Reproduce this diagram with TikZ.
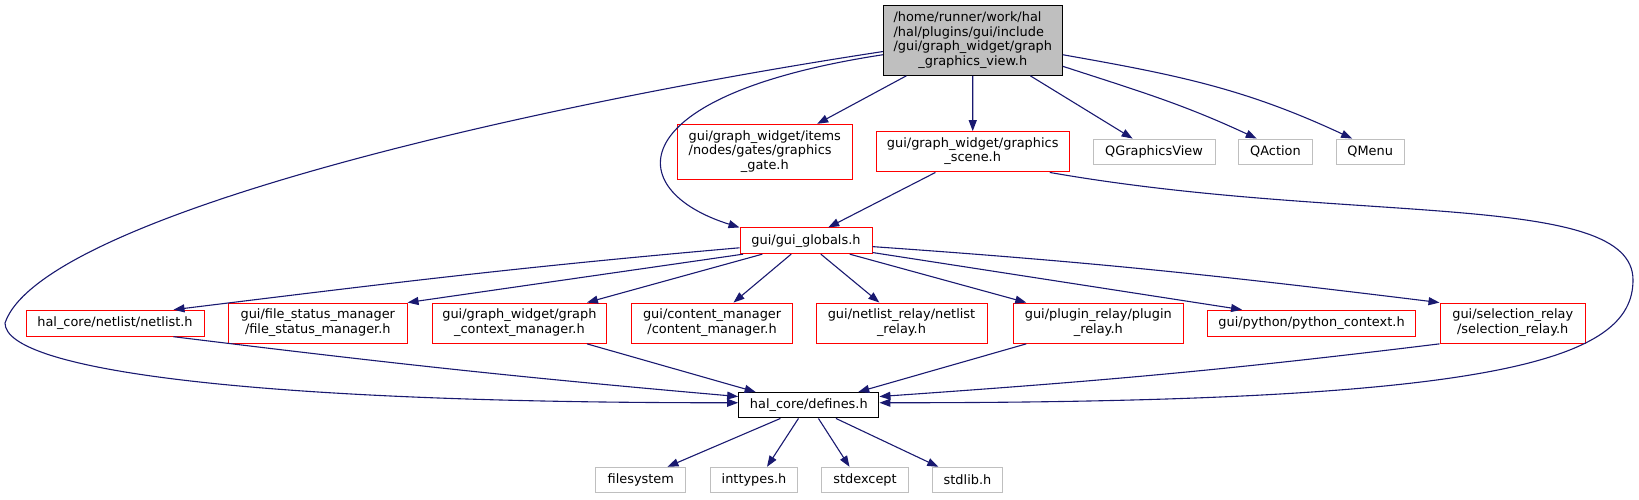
\documentclass[tikz,border=0pt]{standalone}
\usepackage{fontspec}
\setmainfont{DejaVu Sans}
\usetikzlibrary{arrows.meta}
\definecolor{edgeblue}{RGB}{25,25,112}
\definecolor{extgray}{RGB}{191,191,191}
\newcommand{\lastrow}[1]{\multicolumn{1}{@{}c@{}}{#1}}

\begin{document}
\begin{tikzpicture}[x=1pt, y=-1pt,
    every node/.style={font=\fontsize{12.9}{14.5}\selectfont, inner sep=0pt, line width=1pt},
    incbox/.style={draw=red, fill=white, minimum height=40.3pt},
    extbox/.style={draw=extgray, fill=white, minimum height=25.3pt},
    dep/.style={draw=edgeblue, line width=1.1pt, -{Triangle[length=11pt,width=8pt]}}
  ]
  \useasboundingbox (0,0) rectangle (1639,499);
  \node[draw=black, fill=extgray, minimum width=179pt, minimum height=69.6pt] (root) at (972.8,40.5)
    {\begin{tabular}{@{}l@{}}/home/runner/work/hal\\/hal/plugins/gui/include\\/gui/graph\_widget/graph\\\lastrow{\_graphics\_view.h}\end{tabular}};
  \node[incbox, minimum width=175pt, minimum height=54.7pt] (gate) at (764.8,151.7)
    {\begin{tabular}{@{}l@{}}gui/graph\_widget/items\\/nodes/gates/graphics\\\lastrow{\_gate.h}\end{tabular}};
  \node[incbox, minimum width=193.3pt] (scene) at (972.7,151.8)
    {\begin{tabular}{@{}l@{}}gui/graph\_widget/graphics\\\lastrow{\_scene.h}\end{tabular}};
  \node[extbox, minimum width=122pt] (qgv) at (1154,151.7) {QGraphicsView};
  \node[extbox, minimum width=73.6pt] (qaction) at (1275.5,151.7) {QAction};
  \node[extbox, minimum width=68.3pt] (qmenu) at (1370.2,151.7) {QMenu};
  \node[incbox, minimum width=132pt, minimum height=25.7pt] (globals) at (806,240.8) {gui/gui\_globals.h};

  \node[incbox, minimum width=178pt, minimum height=26pt] (netlist) at (115,323.2) {hal\_core/netlist/netlist.h};
  \node[incbox, minimum width=178.5pt] (filestatus) at (317.8,323.2)
    {\begin{tabular}{@{}l@{}}gui/file\_status\_manager\\\lastrow{/file\_status\_manager.h}\end{tabular}};
  \node[incbox, minimum width=174.7pt] (graphctx) at (519.4,323.2)
    {\begin{tabular}{@{}l@{}}gui/graph\_widget/graph\\\lastrow{\_context\_manager.h}\end{tabular}};
  \node[incbox, minimum width=160.6pt] (contentmgr) at (712.1,323.2)
    {\begin{tabular}{@{}l@{}}gui/content\_manager\\\lastrow{/content\_manager.h}\end{tabular}};
  \node[incbox, minimum width=171pt] (netlistrelay) at (901.5,323.2)
    {\begin{tabular}{@{}l@{}}gui/netlist\_relay/netlist\\\lastrow{\_relay.h}\end{tabular}};
  \node[incbox, minimum width=170.6pt] (pluginrelay) at (1098.3,323.2)
    {\begin{tabular}{@{}l@{}}gui/plugin\_relay/plugin\\\lastrow{\_relay.h}\end{tabular}};
  \node[incbox, minimum width=207.6pt, minimum height=26pt] (python) at (1311.5,323.2) {gui/python/python\_context.h};
  \node[incbox, minimum width=145.4pt] (selrelay) at (1512.7,323.2)
    {\begin{tabular}{@{}l@{}}gui/selection\_relay\\\lastrow{/selection\_relay.h}\end{tabular}};

  \node[draw=black, fill=white, minimum width=140.3pt, minimum height=25.5pt] (defines) at (808.8,405.2) {hal\_core/defines.h};
  \foreach \n/\x/\w/\t in {filesystem/640.8/90.3/filesystem, inttypes/754/86.6/inttypes.h, stdexcept/865/86.6/stdexcept, stdlib/967.5/70.4/stdlib.h}
    \node[extbox, minimum width=\w pt, minimum height=25pt] (\n) at (\x,479.8) {\t};

  \draw[dep] (root.187) .. controls (500,110) and (40,220) .. (5,323) .. controls (5,370) and (250,403) .. (defines.178);
  \draw[dep] (root.189) .. controls (620,95) and (620,190) .. (globals.north west);
  \draw[dep] (root.208) -- (gate.28);
  \draw[dep] (root) -- (scene);
  \draw[dep] (root) -- (qgv);
  \draw[dep] (root.-16) to[out=-18,in=155] (qaction.145);
  \draw[dep] (root.-9) to[out=-10,in=155] (qmenu.144);

  \draw[dep] (scene.209) -- (globals.31);
  \draw[dep] (scene.-15) .. controls (1350,225) and (1633,190) .. (1633,280) .. controls (1633,360) and (1500,403) .. (defines.2);

  \draw[dep] (globals.186) to[out=185,in=7] (netlist.13);
  \draw[dep] (globals.192) -- (filestatus.north east);
  \draw[dep] (globals.197) -- (graphctx.17);
  \draw[dep] (globals.222) -- (contentmgr.44);
  \draw[dep] (globals.-42) -- (netlistrelay.137);
  \draw[dep] (globals.-17) -- (pluginrelay.164);
  \draw[dep] (globals.-10) -- (python.169);
  \draw[dep] (globals.-5) to[out=-4,in=173] (selrelay.north west);

  \draw[dep] (netlist.-13) to[out=-7,in=175] (defines.173);
  \draw[dep] (graphctx.-17) -- (defines.166);
  \draw[dep] (pluginrelay.196) -- (defines.15);
  \draw[dep] (selrelay.south west) to[out=187,in=4] (defines.7);

  \foreach \n/\a/\b in {filesystem/205/26, inttypes/232/45, stdexcept/-54/140, stdlib/-26/156}
    \draw[dep] (defines.\a) -- (\n.\b);
\end{tikzpicture}
\end{document}
